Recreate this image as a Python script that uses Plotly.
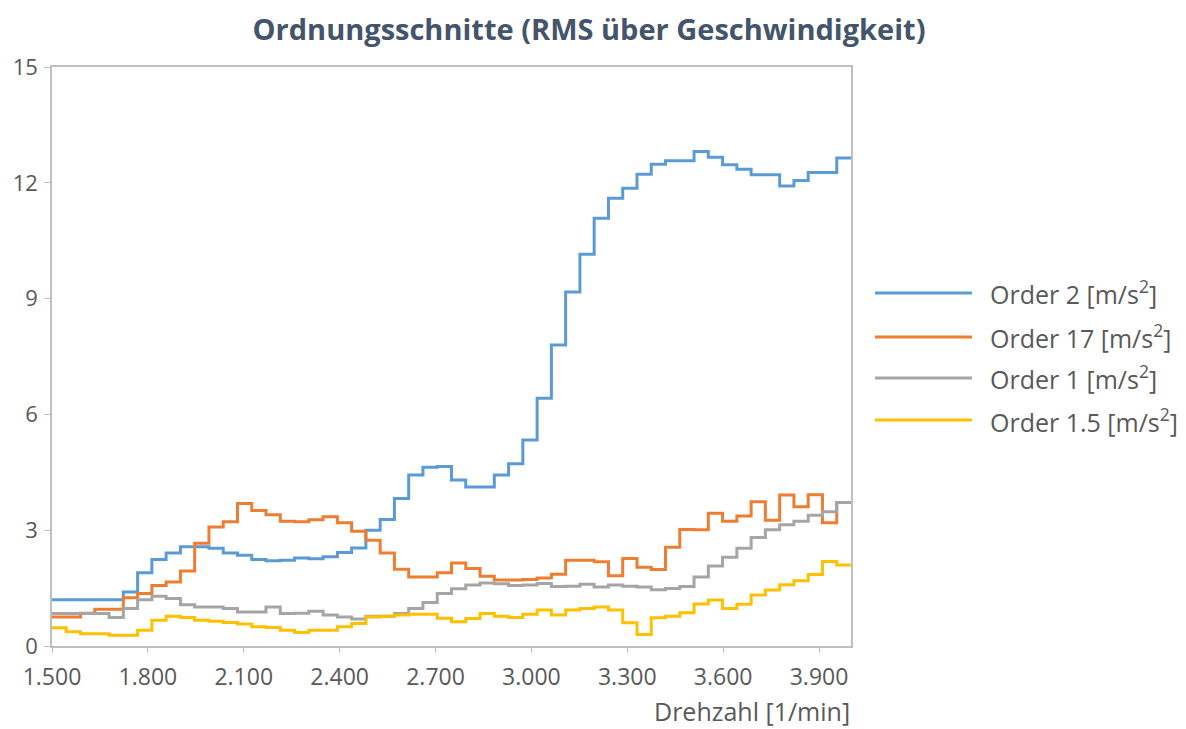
import plotly.graph_objects as go

# Bin start speeds [1/min] (56 bins of equal width from 1500 to 4000)
rpm_start = [1500.0, 1544.6, 1589.3, 1633.9, 1678.6, 1723.2, 1767.9, 1812.5, 1857.1, 1901.8,
             1946.4, 1991.1, 2035.7, 2080.4, 2125.0, 2169.6, 2214.3, 2258.9, 2303.6, 2348.2,
             2392.9, 2437.5, 2482.1, 2526.8, 2571.4, 2616.1, 2660.7, 2705.4, 2750.0, 2794.6,
             2839.3, 2883.9, 2928.6, 2973.2, 3017.9, 3062.5, 3107.1, 3151.8, 3196.4, 3241.1,
             3285.7, 3330.4, 3375.0, 3419.6, 3464.3, 3508.9, 3553.6, 3598.2, 3642.9, 3687.5,
             3732.1, 3776.8, 3821.4, 3866.1, 3910.7, 3955.4]
rpm_end = 4000.0

order_2 = [1.2, 1.2, 1.2, 1.2, 1.2, 1.4, 1.9, 2.24, 2.41, 2.57,
           2.57, 2.53, 2.41, 2.35, 2.24, 2.21, 2.22, 2.28, 2.26, 2.31,
           2.42, 2.54, 3.0, 3.28, 3.82, 4.43, 4.63, 4.65, 4.30, 4.12,
           4.12, 4.43, 4.72, 5.34, 6.42, 7.80, 9.17, 10.15, 11.08, 11.60,
           11.86, 12.22, 12.48, 12.57, 12.57, 12.81, 12.66, 12.47, 12.35, 12.21,
           12.21, 11.92, 12.06, 12.27, 12.27, 12.64]

order_17 = [0.75, 0.75, 0.85, 0.95, 0.95, 1.25, 1.36, 1.57, 1.66, 1.94,
            2.66, 3.08, 3.22, 3.69, 3.51, 3.40, 3.23, 3.22, 3.27, 3.35,
            3.19, 2.97, 2.74, 2.41, 1.99, 1.79, 1.79, 1.90, 2.15, 2.01,
            1.81, 1.71, 1.71, 1.72, 1.76, 1.86, 2.22, 2.22, 2.18, 1.82,
            2.27, 2.04, 1.98, 2.56, 3.02, 3.01, 3.44, 3.23, 3.37, 3.74,
            3.26, 3.91, 3.61, 3.92, 3.19, 3.72]

order_1 = [0.84, 0.84, 0.84, 0.84, 0.74, 0.97, 1.20, 1.29, 1.23, 1.07,
           1.01, 1.01, 0.97, 0.88, 0.88, 1.01, 0.84, 0.85, 0.90, 0.80,
           0.75, 0.70, 0.77, 0.77, 0.84, 0.97, 1.13, 1.36, 1.48, 1.58,
           1.63, 1.61, 1.57, 1.58, 1.62, 1.54, 1.55, 1.60, 1.53, 1.58,
           1.55, 1.53, 1.46, 1.49, 1.54, 1.79, 2.07, 2.30, 2.53, 2.81,
           3.01, 3.14, 3.23, 3.39, 3.48, 3.72]

order_1_5 = [0.47, 0.37, 0.32, 0.32, 0.28, 0.28, 0.41, 0.67, 0.77, 0.74,
             0.67, 0.64, 0.61, 0.57, 0.50, 0.48, 0.41, 0.35, 0.41, 0.41,
             0.50, 0.58, 0.75, 0.77, 0.80, 0.82, 0.82, 0.72, 0.63, 0.71,
             0.84, 0.77, 0.74, 0.82, 0.93, 0.80, 0.93, 0.97, 1.01, 0.93,
             0.60, 0.30, 0.73, 0.77, 0.86, 1.09, 1.19, 0.97, 1.08, 1.32,
             1.45, 1.59, 1.69, 1.85, 2.19, 2.10]

series_names = ["Order 2 [m/s<sup>2</sup>]", "Order 17 [m/s<sup>2</sup>]",
                "Order 1 [m/s<sup>2</sup>]", "Order 1.5 [m/s<sup>2</sup>]"]
series_values = [order_2, order_17, order_1, order_1_5]
series_colors = ["#5B9BD5", "#ED7D31", "#A5A5A5", "#FFC000"]

x_tickvals = [1500, 1800, 2100, 2400, 2700, 3000, 3300, 3600, 3900]
x_ticktext = ["1.500", "1.800", "2.100", "2.400", "2.700", "3.000", "3.300", "3.600", "3.900"]
y_tickvals = [0, 3, 6, 9, 12, 15]

title_text = "Ordnungsschnitte (RMS über Geschwindigkeit)"
x_title = "Drehzahl [1/min]"

FONT = "Open Sans"
AXIS_COL = "#BFBFBF"
TEXT_COL = "#595959"

fig = go.Figure()
x_vals = rpm_start + [rpm_end]
for name, vals, col in zip(series_names, series_values, series_colors):
    fig.add_trace(go.Scatter(
        x=x_vals, y=vals + [vals[-1]], mode="lines", name=name,
        line=dict(color=col, width=3, shape="hv"),
        showlegend=False,
    ))

# Custom legend (long line samples as in the reference)
leg_x0, leg_x1, leg_tx = 1.030, 1.1514, 1.1715
leg_y = [0.6097, 0.5337, 0.4629, 0.3903]
for name, col, yy in zip(series_names, series_colors, leg_y):
    fig.add_shape(type="line", xref="paper", yref="paper",
                  x0=leg_x0, x1=leg_x1, y0=yy, y1=yy,
                  line=dict(color=col, width=3))
    fig.add_annotation(xref="paper", yref="paper", x=leg_tx, y=yy,
                       xanchor="left", yanchor="middle", showarrow=False,
                       text=name, font=dict(family=FONT, size=25, color=TEXT_COL))

fig.add_annotation(xref="paper", yref="paper", x=1, y=-0.1125,
                   xanchor="right", yanchor="middle", showarrow=False, borderpad=0,
                   text=x_title, font=dict(family=FONT, size=25, color=TEXT_COL))

fig.update_layout(
    width=1178, height=721,
    margin=dict(l=44, r=335, t=59, b=83, autoexpand=False),
    paper_bgcolor="white", plot_bgcolor="white",
    title=dict(text="<b>" + title_text + "</b>", x=0.4932, xref="container",
               xanchor="center", y=0.9695, yref="container", yanchor="middle",
               font=dict(family=FONT, size=29, color="#44546A")),
    font=dict(family=FONT, color=TEXT_COL),
    xaxis=dict(range=[1500, 4000], tickvals=x_tickvals, ticktext=x_ticktext,
               showgrid=False, zeroline=False, showline=True, linecolor=AXIS_COL,
               linewidth=1.5, mirror=True, ticks="outside", ticklen=5, tickcolor=AXIS_COL,
               tickfont=dict(family=FONT, size=23, color=TEXT_COL), ticklabelstandoff=5,
               automargin=False),
    yaxis=dict(range=[0, 15], tickvals=y_tickvals, showgrid=False, zeroline=False,
               showline=True, linecolor=AXIS_COL, linewidth=1.5, mirror=True,
               ticks="outside", ticklen=6, tickcolor=AXIS_COL,
               tickfont=dict(family=FONT, size=22, color=TEXT_COL), ticklabelstandoff=2,
               automargin=False),
)

fig.write_html("out.html")
